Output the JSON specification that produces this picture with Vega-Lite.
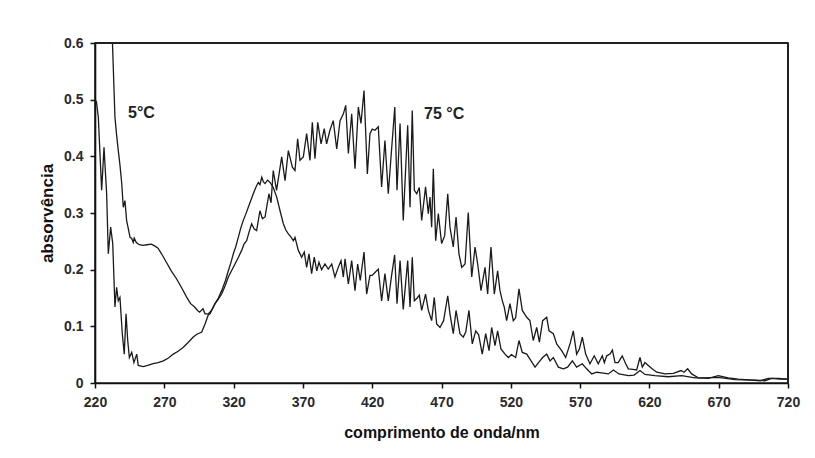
{
  "$schema": "https://vega.github.io/schema/vega-lite/v6.json",
  "width": 693,
  "height": 340,
  "autosize": {"type": "none"},
  "padding": {"left": 95, "top": 43, "right": 27, "bottom": 75},
  "background": "white",
  "view": {"stroke": "#222", "strokeWidth": 1.6},
  "config": {
    "font": "Liberation Sans",
    "axis": {
      "grid": false,
      "domainColor": "#111",
      "domainWidth": 1.6,
      "tickColor": "#111",
      "tickWidth": 1.5,
      "tickSize": 5,
      "labelFont": "Liberation Sans",
      "labelFontSize": 14,
      "labelFontWeight": "bold",
      "labelColor": "#2a2a2a",
      "titleFont": "Liberation Sans",
      "titleFontWeight": "bold",
      "titleColor": "#111",
      "labelFlush": false
    }
  },
  "layer": [
    {
      "data": {
        "values": [
          {"s": "b", "nm": 220, "A": 0.496}, {"s": "b", "nm": 221, "A": 0.497}, {"s": "b", "nm": 222.4, "A": 0.469}, {"s": "b", "nm": 224.8, "A": 0.34}, {"s": "b", "nm": 226.5, "A": 0.416}, {"s": "b", "nm": 228.4, "A": 0.334}, {"s": "b", "nm": 229.6, "A": 0.228}, {"s": "b", "nm": 231.3, "A": 0.275}, {"s": "b", "nm": 232.8, "A": 0.246}, {"s": "b", "nm": 234.4, "A": 0.134}, {"s": "b", "nm": 235.6, "A": 0.169}, {"s": "b", "nm": 236.8, "A": 0.145}, {"s": "b", "nm": 238, "A": 0.151}, {"s": "b", "nm": 239.7, "A": 0.087}, {"s": "b", "nm": 241.1, "A": 0.051}, {"s": "b", "nm": 242.4, "A": 0.122}, {"s": "b", "nm": 243.6, "A": 0.075}, {"s": "b", "nm": 244.8, "A": 0.045}, {"s": "b", "nm": 246.5, "A": 0.054}, {"s": "b", "nm": 248.1, "A": 0.036}, {"s": "b", "nm": 250.1, "A": 0.051}, {"s": "b", "nm": 251.2, "A": 0.031}, {"s": "b", "nm": 254.8, "A": 0.029}, {"s": "b", "nm": 258, "A": 0.031}, {"s": "b", "nm": 262, "A": 0.034}, {"s": "b", "nm": 265.5, "A": 0.036}, {"s": "b", "nm": 269.3, "A": 0.039}, {"s": "b", "nm": 273, "A": 0.044}, {"s": "b", "nm": 276.5, "A": 0.051}, {"s": "b", "nm": 280, "A": 0.056}, {"s": "b", "nm": 283.7, "A": 0.063}, {"s": "b", "nm": 287, "A": 0.071}, {"s": "b", "nm": 290.9, "A": 0.081}, {"s": "b", "nm": 293.5, "A": 0.086}, {"s": "b", "nm": 297, "A": 0.09}, {"s": "b", "nm": 299.4, "A": 0.104}, {"s": "b", "nm": 301.7, "A": 0.12}, {"s": "b", "nm": 303, "A": 0.122}, {"s": "b", "nm": 306.6, "A": 0.14}, {"s": "b", "nm": 309, "A": 0.148}, {"s": "b", "nm": 311.4, "A": 0.157}, {"s": "b", "nm": 314, "A": 0.172}, {"s": "b", "nm": 316.2, "A": 0.187}, {"s": "b", "nm": 318.5, "A": 0.198}, {"s": "b", "nm": 321, "A": 0.21}, {"s": "b", "nm": 323.5, "A": 0.222}, {"s": "b", "nm": 325.8, "A": 0.234}, {"s": "b", "nm": 327.5, "A": 0.245}, {"s": "b", "nm": 329.4, "A": 0.251}, {"s": "b", "nm": 331, "A": 0.265}, {"s": "b", "nm": 333, "A": 0.281}, {"s": "b", "nm": 334.8, "A": 0.272}, {"s": "b", "nm": 336.6, "A": 0.269}, {"s": "b", "nm": 339, "A": 0.304}, {"s": "b", "nm": 340.8, "A": 0.29}, {"s": "b", "nm": 342.7, "A": 0.293}, {"s": "b", "nm": 345.5, "A": 0.334}, {"s": "b", "nm": 347, "A": 0.318}, {"s": "b", "nm": 348.6, "A": 0.375}, {"s": "b", "nm": 351, "A": 0.34}, {"s": "b", "nm": 354.7, "A": 0.399}, {"s": "b", "nm": 357.1, "A": 0.357}, {"s": "b", "nm": 359.5, "A": 0.41}, {"s": "b", "nm": 362.4, "A": 0.381}, {"s": "b", "nm": 364.3, "A": 0.375}, {"s": "b", "nm": 366.2, "A": 0.431}, {"s": "b", "nm": 367.9, "A": 0.393}, {"s": "b", "nm": 370.3, "A": 0.399}, {"s": "b", "nm": 372.7, "A": 0.44}, {"s": "b", "nm": 375.1, "A": 0.393}, {"s": "b", "nm": 376.8, "A": 0.46}, {"s": "b", "nm": 378.7, "A": 0.396}, {"s": "b", "nm": 380.7, "A": 0.46}, {"s": "b", "nm": 383.1, "A": 0.422}, {"s": "b", "nm": 385.4, "A": 0.449}, {"s": "b", "nm": 387.1, "A": 0.422}, {"s": "b", "nm": 389.5, "A": 0.446}, {"s": "b", "nm": 391.9, "A": 0.463}, {"s": "b", "nm": 394.4, "A": 0.413}, {"s": "b", "nm": 396.8, "A": 0.463}, {"s": "b", "nm": 399.2, "A": 0.475}, {"s": "b", "nm": 400.9, "A": 0.49}, {"s": "b", "nm": 402.8, "A": 0.405}, {"s": "b", "nm": 405.2, "A": 0.475}, {"s": "b", "nm": 407.6, "A": 0.378}, {"s": "b", "nm": 410, "A": 0.487}, {"s": "b", "nm": 411.9, "A": 0.458}, {"s": "b", "nm": 414.1, "A": 0.516}, {"s": "b", "nm": 416.5, "A": 0.369}, {"s": "b", "nm": 418.4, "A": 0.44}, {"s": "b", "nm": 420, "A": 0.448}, {"s": "b", "nm": 422, "A": 0.446}, {"s": "b", "nm": 424.4, "A": 0.452}, {"s": "b", "nm": 426.8, "A": 0.346}, {"s": "b", "nm": 429.2, "A": 0.428}, {"s": "b", "nm": 431.6, "A": 0.334}, {"s": "b", "nm": 434.1, "A": 0.416}, {"s": "b", "nm": 436.3, "A": 0.487}, {"s": "b", "nm": 437.9, "A": 0.34}, {"s": "b", "nm": 440.1, "A": 0.458}, {"s": "b", "nm": 442.4, "A": 0.287}, {"s": "b", "nm": 445.6, "A": 0.455}, {"s": "b", "nm": 447.3, "A": 0.31}, {"s": "b", "nm": 448.9, "A": 0.481}, {"s": "b", "nm": 450.4, "A": 0.34}, {"s": "b", "nm": 452.1, "A": 0.334}, {"s": "b", "nm": 454, "A": 0.345}, {"s": "b", "nm": 455.7, "A": 0.287}, {"s": "b", "nm": 458.5, "A": 0.346}, {"s": "b", "nm": 460.5, "A": 0.299}, {"s": "b", "nm": 461.7, "A": 0.328}, {"s": "b", "nm": 462.9, "A": 0.275}, {"s": "b", "nm": 464.1, "A": 0.378}, {"s": "b", "nm": 465.8, "A": 0.251}, {"s": "b", "nm": 467.7, "A": 0.299}, {"s": "b", "nm": 470.1, "A": 0.246}, {"s": "b", "nm": 472.3, "A": 0.26}, {"s": "b", "nm": 474.5, "A": 0.334}, {"s": "b", "nm": 476.1, "A": 0.275}, {"s": "b", "nm": 478.5, "A": 0.24}, {"s": "b", "nm": 480.5, "A": 0.293}, {"s": "b", "nm": 482.6, "A": 0.228}, {"s": "b", "nm": 484.6, "A": 0.204}, {"s": "b", "nm": 487, "A": 0.21}, {"s": "b", "nm": 489.3, "A": 0.301}, {"s": "b", "nm": 491.8, "A": 0.187}, {"s": "b", "nm": 494.2, "A": 0.24}, {"s": "b", "nm": 496.1, "A": 0.21}, {"s": "b", "nm": 498.5, "A": 0.163}, {"s": "b", "nm": 501.4, "A": 0.204}, {"s": "b", "nm": 503.3, "A": 0.157}, {"s": "b", "nm": 505.7, "A": 0.24}, {"s": "b", "nm": 508.1, "A": 0.157}, {"s": "b", "nm": 510.5, "A": 0.198}, {"s": "b", "nm": 512.2, "A": 0.163}, {"s": "b", "nm": 513.9, "A": 0.145}, {"s": "b", "nm": 515.3, "A": 0.134}, {"s": "b", "nm": 517, "A": 0.11}, {"s": "b", "nm": 519.4, "A": 0.14}, {"s": "b", "nm": 521.8, "A": 0.11}, {"s": "b", "nm": 523.5, "A": 0.115}, {"s": "b", "nm": 525.9, "A": 0.166}, {"s": "b", "nm": 528.3, "A": 0.128}, {"s": "b", "nm": 531.5, "A": 0.116}, {"s": "b", "nm": 533.8, "A": 0.11}, {"s": "b", "nm": 536.2, "A": 0.075}, {"s": "b", "nm": 538.7, "A": 0.098}, {"s": "b", "nm": 540.6, "A": 0.072}, {"s": "b", "nm": 543, "A": 0.11}, {"s": "b", "nm": 545.9, "A": 0.116}, {"s": "b", "nm": 547.6, "A": 0.092}, {"s": "b", "nm": 550.7, "A": 0.087}, {"s": "b", "nm": 553.1, "A": 0.069}, {"s": "b", "nm": 556.7, "A": 0.057}, {"s": "b", "nm": 559.6, "A": 0.045}, {"s": "b", "nm": 562.7, "A": 0.069}, {"s": "b", "nm": 565.1, "A": 0.092}, {"s": "b", "nm": 567.5, "A": 0.051}, {"s": "b", "nm": 569.5, "A": 0.06}, {"s": "b", "nm": 571.6, "A": 0.081}, {"s": "b", "nm": 574, "A": 0.051}, {"s": "b", "nm": 577.1, "A": 0.034}, {"s": "b", "nm": 580.2, "A": 0.048}, {"s": "b", "nm": 583.1, "A": 0.034}, {"s": "b", "nm": 586, "A": 0.048}, {"s": "b", "nm": 587.5, "A": 0.036}, {"s": "b", "nm": 589.2, "A": 0.048}, {"s": "b", "nm": 591.6, "A": 0.051}, {"s": "b", "nm": 593.3, "A": 0.058}, {"s": "b", "nm": 595.2, "A": 0.036}, {"s": "b", "nm": 597.5, "A": 0.036}, {"s": "b", "nm": 600.4, "A": 0.048}, {"s": "b", "nm": 602.9, "A": 0.034}, {"s": "b", "nm": 604.8, "A": 0.025}, {"s": "b", "nm": 608, "A": 0.024}, {"s": "b", "nm": 610.8, "A": 0.023}, {"s": "b", "nm": 613.2, "A": 0.045}, {"s": "b", "nm": 614.9, "A": 0.028}, {"s": "b", "nm": 616.8, "A": 0.036}, {"s": "b", "nm": 619.2, "A": 0.031}, {"s": "b", "nm": 621.5, "A": 0.026}, {"s": "b", "nm": 625.3, "A": 0.019}, {"s": "b", "nm": 631.3, "A": 0.016}, {"s": "b", "nm": 637.3, "A": 0.017}, {"s": "b", "nm": 642.8, "A": 0.022}, {"s": "b", "nm": 645, "A": 0.019}, {"s": "b", "nm": 647.6, "A": 0.025}, {"s": "b", "nm": 650.5, "A": 0.016}, {"s": "b", "nm": 655.3, "A": 0.009}, {"s": "b", "nm": 662.5, "A": 0.008}, {"s": "b", "nm": 669.7, "A": 0.013}, {"s": "b", "nm": 676.9, "A": 0.009}, {"s": "b", "nm": 684.1, "A": 0.007}, {"s": "b", "nm": 693.8, "A": 0.005}, {"s": "b", "nm": 700, "A": 0.004}, {"s": "b", "nm": 705.8, "A": 0.008}, {"s": "b", "nm": 713, "A": 0.008}, {"s": "b", "nm": 720, "A": 0.007},
          {"s": "a", "nm": 232.6, "A": 0.6}, {"s": "a", "nm": 234.4, "A": 0.469}, {"s": "a", "nm": 235.5, "A": 0.44}, {"s": "a", "nm": 236.8, "A": 0.41}, {"s": "a", "nm": 238, "A": 0.385}, {"s": "a", "nm": 239.3, "A": 0.352}, {"s": "a", "nm": 240.4, "A": 0.31}, {"s": "a", "nm": 241.6, "A": 0.322}, {"s": "a", "nm": 242.8, "A": 0.287}, {"s": "a", "nm": 243.8, "A": 0.275}, {"s": "a", "nm": 245.3, "A": 0.257}, {"s": "a", "nm": 246.5, "A": 0.255}, {"s": "a", "nm": 247.6, "A": 0.248}, {"s": "a", "nm": 248.3, "A": 0.256}, {"s": "a", "nm": 249.8, "A": 0.248}, {"s": "a", "nm": 252, "A": 0.244}, {"s": "a", "nm": 254.6, "A": 0.243}, {"s": "a", "nm": 257.5, "A": 0.244}, {"s": "a", "nm": 260.6, "A": 0.245}, {"s": "a", "nm": 263, "A": 0.242}, {"s": "a", "nm": 265.5, "A": 0.238}, {"s": "a", "nm": 268, "A": 0.228}, {"s": "a", "nm": 271.5, "A": 0.213}, {"s": "a", "nm": 275, "A": 0.198}, {"s": "a", "nm": 278.8, "A": 0.184}, {"s": "a", "nm": 282.5, "A": 0.168}, {"s": "a", "nm": 286, "A": 0.152}, {"s": "a", "nm": 289, "A": 0.14}, {"s": "a", "nm": 291.9, "A": 0.134}, {"s": "a", "nm": 294, "A": 0.128}, {"s": "a", "nm": 295.5, "A": 0.125}, {"s": "a", "nm": 297.9, "A": 0.131}, {"s": "a", "nm": 299.4, "A": 0.122}, {"s": "a", "nm": 301.7, "A": 0.122}, {"s": "a", "nm": 304, "A": 0.128}, {"s": "a", "nm": 306.6, "A": 0.14}, {"s": "a", "nm": 309, "A": 0.15}, {"s": "a", "nm": 311.4, "A": 0.163}, {"s": "a", "nm": 314, "A": 0.18}, {"s": "a", "nm": 316.2, "A": 0.198}, {"s": "a", "nm": 318, "A": 0.212}, {"s": "a", "nm": 319.8, "A": 0.228}, {"s": "a", "nm": 321.5, "A": 0.24}, {"s": "a", "nm": 323.4, "A": 0.257}, {"s": "a", "nm": 325, "A": 0.272}, {"s": "a", "nm": 327, "A": 0.287}, {"s": "a", "nm": 328.8, "A": 0.298}, {"s": "a", "nm": 330.6, "A": 0.31}, {"s": "a", "nm": 332.4, "A": 0.322}, {"s": "a", "nm": 334.2, "A": 0.334}, {"s": "a", "nm": 336, "A": 0.345}, {"s": "a", "nm": 337.8, "A": 0.354}, {"s": "a", "nm": 339, "A": 0.35}, {"s": "a", "nm": 340.3, "A": 0.363}, {"s": "a", "nm": 341.5, "A": 0.355}, {"s": "a", "nm": 342.7, "A": 0.352}, {"s": "a", "nm": 344.5, "A": 0.358}, {"s": "a", "nm": 346.3, "A": 0.354}, {"s": "a", "nm": 348.6, "A": 0.345}, {"s": "a", "nm": 351.1, "A": 0.328}, {"s": "a", "nm": 353.5, "A": 0.304}, {"s": "a", "nm": 355.9, "A": 0.281}, {"s": "a", "nm": 357.7, "A": 0.27}, {"s": "a", "nm": 359.5, "A": 0.263}, {"s": "a", "nm": 361.3, "A": 0.258}, {"s": "a", "nm": 363.1, "A": 0.251}, {"s": "a", "nm": 364.3, "A": 0.257}, {"s": "a", "nm": 366.7, "A": 0.234}, {"s": "a", "nm": 369.1, "A": 0.222}, {"s": "a", "nm": 371, "A": 0.231}, {"s": "a", "nm": 372.7, "A": 0.204}, {"s": "a", "nm": 374.4, "A": 0.228}, {"s": "a", "nm": 376.3, "A": 0.193}, {"s": "a", "nm": 378.2, "A": 0.222}, {"s": "a", "nm": 380, "A": 0.198}, {"s": "a", "nm": 381.6, "A": 0.213}, {"s": "a", "nm": 383.5, "A": 0.2}, {"s": "a", "nm": 385.9, "A": 0.21}, {"s": "a", "nm": 388.3, "A": 0.201}, {"s": "a", "nm": 390.8, "A": 0.21}, {"s": "a", "nm": 393.1, "A": 0.187}, {"s": "a", "nm": 395.5, "A": 0.204}, {"s": "a", "nm": 397.5, "A": 0.216}, {"s": "a", "nm": 399.2, "A": 0.187}, {"s": "a", "nm": 400.4, "A": 0.219}, {"s": "a", "nm": 402.8, "A": 0.175}, {"s": "a", "nm": 405.2, "A": 0.216}, {"s": "a", "nm": 407.6, "A": 0.163}, {"s": "a", "nm": 409.5, "A": 0.21}, {"s": "a", "nm": 411.4, "A": 0.181}, {"s": "a", "nm": 414.1, "A": 0.231}, {"s": "a", "nm": 416, "A": 0.157}, {"s": "a", "nm": 418.4, "A": 0.19}, {"s": "a", "nm": 420, "A": 0.19}, {"s": "a", "nm": 422, "A": 0.195}, {"s": "a", "nm": 424.4, "A": 0.201}, {"s": "a", "nm": 426.8, "A": 0.145}, {"s": "a", "nm": 429.2, "A": 0.193}, {"s": "a", "nm": 431.6, "A": 0.145}, {"s": "a", "nm": 434, "A": 0.19}, {"s": "a", "nm": 436.2, "A": 0.226}, {"s": "a", "nm": 437.9, "A": 0.14}, {"s": "a", "nm": 440.1, "A": 0.216}, {"s": "a", "nm": 442.4, "A": 0.13}, {"s": "a", "nm": 445.6, "A": 0.216}, {"s": "a", "nm": 447.3, "A": 0.134}, {"s": "a", "nm": 448.9, "A": 0.222}, {"s": "a", "nm": 450.4, "A": 0.145}, {"s": "a", "nm": 452.5, "A": 0.15}, {"s": "a", "nm": 454, "A": 0.155}, {"s": "a", "nm": 455.7, "A": 0.128}, {"s": "a", "nm": 458.5, "A": 0.157}, {"s": "a", "nm": 460.5, "A": 0.128}, {"s": "a", "nm": 462.9, "A": 0.11}, {"s": "a", "nm": 464.8, "A": 0.151}, {"s": "a", "nm": 466.5, "A": 0.104}, {"s": "a", "nm": 468.9, "A": 0.098}, {"s": "a", "nm": 471.5, "A": 0.11}, {"s": "a", "nm": 474.5, "A": 0.154}, {"s": "a", "nm": 476.1, "A": 0.122}, {"s": "a", "nm": 478.5, "A": 0.087}, {"s": "a", "nm": 480.5, "A": 0.128}, {"s": "a", "nm": 483.3, "A": 0.087}, {"s": "a", "nm": 485.7, "A": 0.081}, {"s": "a", "nm": 487.5, "A": 0.09}, {"s": "a", "nm": 489.8, "A": 0.128}, {"s": "a", "nm": 492.2, "A": 0.069}, {"s": "a", "nm": 494.7, "A": 0.092}, {"s": "a", "nm": 496.8, "A": 0.085}, {"s": "a", "nm": 499.4, "A": 0.051}, {"s": "a", "nm": 501.9, "A": 0.087}, {"s": "a", "nm": 504.3, "A": 0.057}, {"s": "a", "nm": 506.2, "A": 0.098}, {"s": "a", "nm": 508.6, "A": 0.066}, {"s": "a", "nm": 510.5, "A": 0.092}, {"s": "a", "nm": 512.9, "A": 0.06}, {"s": "a", "nm": 515.8, "A": 0.051}, {"s": "a", "nm": 518.2, "A": 0.045}, {"s": "a", "nm": 520.5, "A": 0.05}, {"s": "a", "nm": 523.5, "A": 0.045}, {"s": "a", "nm": 525.9, "A": 0.075}, {"s": "a", "nm": 528.3, "A": 0.054}, {"s": "a", "nm": 531.5, "A": 0.051}, {"s": "a", "nm": 534.6, "A": 0.039}, {"s": "a", "nm": 537.5, "A": 0.028}, {"s": "a", "nm": 540, "A": 0.036}, {"s": "a", "nm": 543, "A": 0.045}, {"s": "a", "nm": 545.9, "A": 0.051}, {"s": "a", "nm": 548.3, "A": 0.039}, {"s": "a", "nm": 550.7, "A": 0.045}, {"s": "a", "nm": 554.3, "A": 0.028}, {"s": "a", "nm": 557.9, "A": 0.025}, {"s": "a", "nm": 561, "A": 0.028}, {"s": "a", "nm": 564.4, "A": 0.039}, {"s": "a", "nm": 567.5, "A": 0.028}, {"s": "a", "nm": 571.6, "A": 0.034}, {"s": "a", "nm": 574.7, "A": 0.025}, {"s": "a", "nm": 578.4, "A": 0.016}, {"s": "a", "nm": 582, "A": 0.019}, {"s": "a", "nm": 585.5, "A": 0.018}, {"s": "a", "nm": 590.4, "A": 0.016}, {"s": "a", "nm": 594, "A": 0.023}, {"s": "a", "nm": 598, "A": 0.016}, {"s": "a", "nm": 604.8, "A": 0.013}, {"s": "a", "nm": 609, "A": 0.014}, {"s": "a", "nm": 613.2, "A": 0.022}, {"s": "a", "nm": 616.8, "A": 0.015}, {"s": "a", "nm": 624, "A": 0.013}, {"s": "a", "nm": 633.6, "A": 0.011}, {"s": "a", "nm": 643.3, "A": 0.013}, {"s": "a", "nm": 652.9, "A": 0.009}, {"s": "a", "nm": 660, "A": 0.009}, {"s": "a", "nm": 669.7, "A": 0.01}, {"s": "a", "nm": 681.8, "A": 0.006}, {"s": "a", "nm": 696.2, "A": 0.005}, {"s": "a", "nm": 703.4, "A": 0.004}, {"s": "a", "nm": 708.2, "A": 0.008}, {"s": "a", "nm": 714, "A": 0.007}, {"s": "a", "nm": 720, "A": 0.007}
        ]
      },
      "mark": {"type": "line", "color": "#1a1a1a", "strokeWidth": 1.3},
      "encoding": {
        "x": {
          "field": "nm",
          "type": "quantitative",
          "scale": {"domain": [220, 720], "nice": false, "zero": false},
          "axis": {
            "values": [220, 270, 320, 370, 420, 470, 520, 570, 620, 670, 720],
            "title": "comprimento de onda/nm",
            "titleFontSize": 16,
            "labelPadding": 7,
            "titlePadding": 15
          }
        },
        "y": {
          "field": "A",
          "type": "quantitative",
          "scale": {"domain": [0, 0.6], "nice": false},
          "axis": {
            "values": [0, 0.1, 0.2, 0.3, 0.4, 0.5, 0.6],
            "format": "~g",
            "title": "absorvência",
            "titleFontSize": 17,
            "labelPadding": 7,
            "titlePadding": 7
          }
        },
        "detail": {"field": "s"}
      }
    },
    {
      "data": {
        "values": [
          {"nm": 243.8, "A": 0.476, "t": "5°C"},
          {"nm": 457.4, "A": 0.475, "t": "75 °C"}
        ]
      },
      "mark": {"type": "text", "align": "left", "baseline": "middle", "fontSize": 16, "fontWeight": "bold", "font": "Liberation Sans", "color": "#222"},
      "encoding": {
        "x": {"field": "nm", "type": "quantitative"},
        "y": {"field": "A", "type": "quantitative"},
        "text": {"field": "t"}
      }
    },
    {
      "data": {
        "values": [
          {"x1": 220, "x2": 720, "y1": 0.6, "y2": 0.6},
          {"x1": 720, "x2": 720, "y1": 0, "y2": 0.6}
        ]
      },
      "mark": {"type": "rule", "color": "#202020", "strokeWidth": 2},
      "encoding": {
        "x": {"field": "x1", "type": "quantitative"},
        "x2": {"field": "x2"},
        "y": {"field": "y1", "type": "quantitative"},
        "y2": {"field": "y2"}
      }
    }
  ]
}
